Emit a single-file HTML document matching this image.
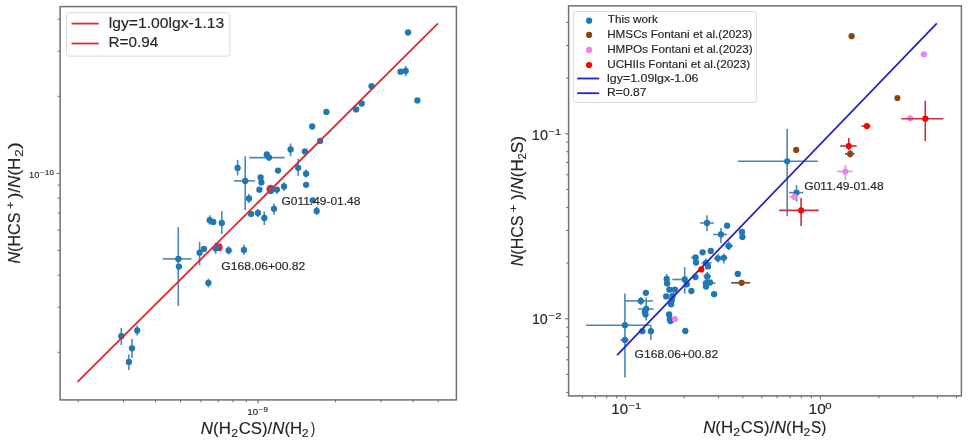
<!DOCTYPE html>
<html><head><meta charset="utf-8"><style>
html,body{margin:0;padding:0;background:#fff;}
body{width:969px;height:445px;overflow:hidden;}
svg{display:block;filter:blur(0.4px);}
text{font-family:"Liberation Sans", sans-serif;fill:#262626;stroke:#262626;stroke-width:0.15px;}
</style></head><body>
<svg width="969" height="445" viewBox="0 0 969 445">
<rect width="969" height="445" fill="#fff"/>
<line x1="78.1" y1="399.9" x2="78.1" y2="402.29999999999995" stroke="#3c3c3c" stroke-width="0.8"/>
<line x1="123.5" y1="399.9" x2="123.5" y2="402.29999999999995" stroke="#3c3c3c" stroke-width="0.8"/>
<line x1="155.6" y1="399.9" x2="155.6" y2="402.29999999999995" stroke="#3c3c3c" stroke-width="0.8"/>
<line x1="180.6" y1="399.9" x2="180.6" y2="402.29999999999995" stroke="#3c3c3c" stroke-width="0.8"/>
<line x1="201.0" y1="399.9" x2="201.0" y2="402.29999999999995" stroke="#3c3c3c" stroke-width="0.8"/>
<line x1="218.2" y1="399.9" x2="218.2" y2="402.29999999999995" stroke="#3c3c3c" stroke-width="0.8"/>
<line x1="233.1" y1="399.9" x2="233.1" y2="402.29999999999995" stroke="#3c3c3c" stroke-width="0.8"/>
<line x1="246.3" y1="399.9" x2="246.3" y2="402.29999999999995" stroke="#3c3c3c" stroke-width="0.8"/>
<line x1="335.6" y1="399.9" x2="335.6" y2="402.29999999999995" stroke="#3c3c3c" stroke-width="0.8"/>
<line x1="381.0" y1="399.9" x2="381.0" y2="402.29999999999995" stroke="#3c3c3c" stroke-width="0.8"/>
<line x1="413.1" y1="399.9" x2="413.1" y2="402.29999999999995" stroke="#3c3c3c" stroke-width="0.8"/>
<line x1="438.1" y1="399.9" x2="438.1" y2="402.29999999999995" stroke="#3c3c3c" stroke-width="0.8"/>
<line x1="258.1" y1="399.9" x2="258.1" y2="403.4" stroke="#3c3c3c" stroke-width="0.8"/>
<line x1="57.7" y1="352.3" x2="60.1" y2="352.3" stroke="#3c3c3c" stroke-width="0.8"/>
<line x1="57.7" y1="307.3" x2="60.1" y2="307.3" stroke="#3c3c3c" stroke-width="0.8"/>
<line x1="57.7" y1="275.3" x2="60.1" y2="275.3" stroke="#3c3c3c" stroke-width="0.8"/>
<line x1="57.7" y1="250.5" x2="60.1" y2="250.5" stroke="#3c3c3c" stroke-width="0.8"/>
<line x1="57.7" y1="230.2" x2="60.1" y2="230.2" stroke="#3c3c3c" stroke-width="0.8"/>
<line x1="57.7" y1="213.1" x2="60.1" y2="213.1" stroke="#3c3c3c" stroke-width="0.8"/>
<line x1="57.7" y1="198.2" x2="60.1" y2="198.2" stroke="#3c3c3c" stroke-width="0.8"/>
<line x1="57.7" y1="185.1" x2="60.1" y2="185.1" stroke="#3c3c3c" stroke-width="0.8"/>
<line x1="57.7" y1="96.3" x2="60.1" y2="96.3" stroke="#3c3c3c" stroke-width="0.8"/>
<line x1="57.7" y1="51.3" x2="60.1" y2="51.3" stroke="#3c3c3c" stroke-width="0.8"/>
<line x1="57.7" y1="19.3" x2="60.1" y2="19.3" stroke="#3c3c3c" stroke-width="0.8"/>
<line x1="56.6" y1="173.4" x2="60.1" y2="173.4" stroke="#3c3c3c" stroke-width="0.8"/>
<line x1="405.7" y1="65.9" x2="405.7" y2="76.2" stroke="#4a88b8" stroke-width="1.6"/>
<line x1="290.6" y1="143.5" x2="290.6" y2="156.2" stroke="#4a88b8" stroke-width="1.6"/>
<line x1="249.3" y1="157.6" x2="284.7" y2="157.6" stroke="#4a88b8" stroke-width="1.6"/>
<line x1="269.0" y1="153.5" x2="269.0" y2="161.0" stroke="#4a88b8" stroke-width="1.6"/>
<line x1="298.2" y1="158.8" x2="298.2" y2="175.8" stroke="#4a88b8" stroke-width="1.6"/>
<line x1="306.1" y1="169.6" x2="306.1" y2="177.6" stroke="#4a88b8" stroke-width="1.6"/>
<line x1="284.0" y1="182.2" x2="284.0" y2="190.9" stroke="#4a88b8" stroke-width="1.6"/>
<line x1="249.0" y1="194.0" x2="249.0" y2="203.0" stroke="#4a88b8" stroke-width="1.6"/>
<line x1="237.6" y1="159.8" x2="237.6" y2="175.5" stroke="#4a88b8" stroke-width="1.6"/>
<line x1="234.0" y1="180.9" x2="255.1" y2="180.9" stroke="#4a88b8" stroke-width="1.6"/>
<line x1="245.2" y1="156.3" x2="245.2" y2="210.1" stroke="#4a88b8" stroke-width="1.6"/>
<line x1="257.9" y1="209.0" x2="257.9" y2="217.0" stroke="#4a88b8" stroke-width="1.6"/>
<line x1="264.3" y1="211.5" x2="264.3" y2="225.0" stroke="#4a88b8" stroke-width="1.6"/>
<line x1="274.0" y1="203.4" x2="274.0" y2="214.7" stroke="#4a88b8" stroke-width="1.6"/>
<line x1="316.7" y1="206.6" x2="316.7" y2="215.1" stroke="#4a88b8" stroke-width="1.6"/>
<line x1="209.7" y1="215.3" x2="209.7" y2="224.7" stroke="#4a88b8" stroke-width="1.6"/>
<line x1="221.8" y1="211.2" x2="221.8" y2="234.1" stroke="#4a88b8" stroke-width="1.6"/>
<line x1="199.6" y1="241.8" x2="199.6" y2="265.3" stroke="#4a88b8" stroke-width="1.6"/>
<line x1="228.6" y1="246.2" x2="228.6" y2="254.3" stroke="#4a88b8" stroke-width="1.6"/>
<line x1="243.9" y1="244.8" x2="243.9" y2="254.7" stroke="#4a88b8" stroke-width="1.6"/>
<line x1="208.4" y1="278.6" x2="208.4" y2="287.5" stroke="#4a88b8" stroke-width="1.6"/>
<line x1="162.7" y1="258.9" x2="191.4" y2="258.9" stroke="#4a88b8" stroke-width="1.6"/>
<line x1="178.3" y1="227.1" x2="178.3" y2="306.0" stroke="#4a88b8" stroke-width="1.6"/>
<line x1="121.3" y1="328.0" x2="121.3" y2="345.0" stroke="#4a88b8" stroke-width="1.6"/>
<line x1="137.2" y1="325.4" x2="137.2" y2="335.5" stroke="#4a88b8" stroke-width="1.6"/>
<line x1="132.0" y1="339.0" x2="132.0" y2="357.8" stroke="#4a88b8" stroke-width="1.6"/>
<line x1="128.9" y1="354.4" x2="128.9" y2="370.0" stroke="#4a88b8" stroke-width="1.6"/>
<line x1="276.9" y1="186.9" x2="276.9" y2="194.0" stroke="#4a88b8" stroke-width="1.6"/>
<line x1="215.6" y1="242.6" x2="215.6" y2="253.9" stroke="#4a88b8" stroke-width="1.6"/>
<circle cx="270.6" cy="188.9" r="4.2" fill="#e8242a"/>
<circle cx="218.8" cy="247.2" r="3.9" fill="#e8242a"/>
<circle cx="408.1" cy="32.5" r="3.15" fill="#1f77b4"/>
<circle cx="400.5" cy="71.7" r="3.15" fill="#1f77b4"/>
<circle cx="405.7" cy="71.0" r="3.15" fill="#1f77b4"/>
<circle cx="417.4" cy="100.4" r="3.15" fill="#1f77b4"/>
<circle cx="371.5" cy="86.2" r="3.15" fill="#1f77b4"/>
<circle cx="361.7" cy="103.5" r="3.15" fill="#1f77b4"/>
<circle cx="356.1" cy="109.4" r="3.15" fill="#1f77b4"/>
<circle cx="326.4" cy="111.9" r="3.15" fill="#1f77b4"/>
<circle cx="312.2" cy="126.5" r="3.15" fill="#1f77b4"/>
<circle cx="320.1" cy="140.9" r="3.15" fill="#1f77b4"/>
<circle cx="304.9" cy="151.4" r="3.15" fill="#1f77b4"/>
<circle cx="290.6" cy="149.5" r="3.15" fill="#1f77b4"/>
<circle cx="266.8" cy="154.4" r="3.15" fill="#1f77b4"/>
<circle cx="269.0" cy="157.6" r="3.15" fill="#1f77b4"/>
<circle cx="278.0" cy="170.6" r="3.15" fill="#1f77b4"/>
<circle cx="298.2" cy="167.8" r="3.15" fill="#1f77b4"/>
<circle cx="306.1" cy="173.7" r="3.15" fill="#1f77b4"/>
<circle cx="260.6" cy="177.4" r="3.15" fill="#1f77b4"/>
<circle cx="261.4" cy="182.5" r="3.15" fill="#1f77b4"/>
<circle cx="259.4" cy="189.7" r="3.15" fill="#1f77b4"/>
<circle cx="306.1" cy="184.8" r="3.15" fill="#1f77b4"/>
<circle cx="284.0" cy="186.5" r="3.15" fill="#1f77b4"/>
<circle cx="249.0" cy="198.4" r="3.15" fill="#1f77b4"/>
<circle cx="237.6" cy="167.9" r="3.15" fill="#1f77b4"/>
<circle cx="245.2" cy="180.9" r="3.15" fill="#1f77b4"/>
<circle cx="251.1" cy="213.9" r="3.15" fill="#1f77b4"/>
<circle cx="257.9" cy="213.0" r="3.15" fill="#1f77b4"/>
<circle cx="264.3" cy="218.0" r="3.15" fill="#1f77b4"/>
<circle cx="274.0" cy="208.8" r="3.15" fill="#1f77b4"/>
<circle cx="312.7" cy="200.3" r="3.15" fill="#1f77b4"/>
<circle cx="316.7" cy="211.0" r="3.15" fill="#1f77b4"/>
<circle cx="209.7" cy="220.2" r="3.15" fill="#1f77b4"/>
<circle cx="213.3" cy="222.0" r="3.15" fill="#1f77b4"/>
<circle cx="221.8" cy="222.9" r="3.15" fill="#1f77b4"/>
<circle cx="199.6" cy="252.7" r="3.15" fill="#1f77b4"/>
<circle cx="203.9" cy="248.9" r="3.15" fill="#1f77b4"/>
<circle cx="228.6" cy="250.5" r="3.15" fill="#1f77b4"/>
<circle cx="243.9" cy="249.9" r="3.15" fill="#1f77b4"/>
<circle cx="208.4" cy="283.0" r="3.15" fill="#1f77b4"/>
<circle cx="178.3" cy="258.9" r="3.15" fill="#1f77b4"/>
<circle cx="178.9" cy="266.6" r="3.15" fill="#1f77b4"/>
<circle cx="121.3" cy="336.2" r="3.15" fill="#1f77b4"/>
<circle cx="137.2" cy="330.5" r="3.15" fill="#1f77b4"/>
<circle cx="132.0" cy="348.3" r="3.15" fill="#1f77b4"/>
<circle cx="128.9" cy="361.9" r="3.15" fill="#1f77b4"/>
<circle cx="270.8" cy="191.0" r="3.15" fill="#1f77b4"/>
<circle cx="272.5" cy="189.2" r="3.15" fill="#1f77b4"/>
<circle cx="276.9" cy="189.6" r="3.15" fill="#1f77b4"/>
<circle cx="215.6" cy="248.4" r="3.15" fill="#1f77b4"/>
<circle cx="217.0" cy="247.5" r="3.15" fill="#1f77b4"/>
<line x1="77.5" y1="381.9" x2="438" y2="23.4" stroke="#dc2a2e" stroke-width="1.8"/>
<rect x="60.1" y="6.6" width="396.29999999999995" height="393.29999999999995" fill="none" stroke="#707070" stroke-width="1.5"/>
<rect x="66.5" y="12.8" width="163.5" height="43.3" rx="2.5" fill="#fff" fill-opacity="0.8" stroke="#d6d6d6" stroke-width="0.9"/>
<line x1="71.5" y1="23.6" x2="98.6" y2="23.6" stroke="#dc2a2e" stroke-width="1.8"/>
<line x1="71.5" y1="43.5" x2="98.6" y2="43.5" stroke="#dc2a2e" stroke-width="1.8"/>
<line x1="582.4" y1="395.9" x2="582.4" y2="398.29999999999995" stroke="#3c3c3c" stroke-width="0.8"/>
<line x1="595.4" y1="395.9" x2="595.4" y2="398.29999999999995" stroke="#3c3c3c" stroke-width="0.8"/>
<line x1="606.7" y1="395.9" x2="606.7" y2="398.29999999999995" stroke="#3c3c3c" stroke-width="0.8"/>
<line x1="616.7" y1="395.9" x2="616.7" y2="398.29999999999995" stroke="#3c3c3c" stroke-width="0.8"/>
<line x1="684.2" y1="395.9" x2="684.2" y2="398.29999999999995" stroke="#3c3c3c" stroke-width="0.8"/>
<line x1="718.5" y1="395.9" x2="718.5" y2="398.29999999999995" stroke="#3c3c3c" stroke-width="0.8"/>
<line x1="742.8" y1="395.9" x2="742.8" y2="398.29999999999995" stroke="#3c3c3c" stroke-width="0.8"/>
<line x1="761.7" y1="395.9" x2="761.7" y2="398.29999999999995" stroke="#3c3c3c" stroke-width="0.8"/>
<line x1="777.1" y1="395.9" x2="777.1" y2="398.29999999999995" stroke="#3c3c3c" stroke-width="0.8"/>
<line x1="790.1" y1="395.9" x2="790.1" y2="398.29999999999995" stroke="#3c3c3c" stroke-width="0.8"/>
<line x1="801.4" y1="395.9" x2="801.4" y2="398.29999999999995" stroke="#3c3c3c" stroke-width="0.8"/>
<line x1="811.4" y1="395.9" x2="811.4" y2="398.29999999999995" stroke="#3c3c3c" stroke-width="0.8"/>
<line x1="878.9" y1="395.9" x2="878.9" y2="398.29999999999995" stroke="#3c3c3c" stroke-width="0.8"/>
<line x1="913.2" y1="395.9" x2="913.2" y2="398.29999999999995" stroke="#3c3c3c" stroke-width="0.8"/>
<line x1="937.5" y1="395.9" x2="937.5" y2="398.29999999999995" stroke="#3c3c3c" stroke-width="0.8"/>
<line x1="956.4" y1="395.9" x2="956.4" y2="398.29999999999995" stroke="#3c3c3c" stroke-width="0.8"/>
<line x1="625.6" y1="395.9" x2="625.6" y2="399.4" stroke="#3c3c3c" stroke-width="0.8"/>
<line x1="820.3" y1="395.9" x2="820.3" y2="399.4" stroke="#3c3c3c" stroke-width="0.8"/>
<line x1="566.2" y1="392.4" x2="568.6" y2="392.4" stroke="#3c3c3c" stroke-width="0.8"/>
<line x1="566.2" y1="374.4" x2="568.6" y2="374.4" stroke="#3c3c3c" stroke-width="0.8"/>
<line x1="566.2" y1="359.8" x2="568.6" y2="359.8" stroke="#3c3c3c" stroke-width="0.8"/>
<line x1="566.2" y1="347.4" x2="568.6" y2="347.4" stroke="#3c3c3c" stroke-width="0.8"/>
<line x1="566.2" y1="336.7" x2="568.6" y2="336.7" stroke="#3c3c3c" stroke-width="0.8"/>
<line x1="566.2" y1="327.2" x2="568.6" y2="327.2" stroke="#3c3c3c" stroke-width="0.8"/>
<line x1="566.2" y1="263.1" x2="568.6" y2="263.1" stroke="#3c3c3c" stroke-width="0.8"/>
<line x1="566.2" y1="230.5" x2="568.6" y2="230.5" stroke="#3c3c3c" stroke-width="0.8"/>
<line x1="566.2" y1="207.4" x2="568.6" y2="207.4" stroke="#3c3c3c" stroke-width="0.8"/>
<line x1="566.2" y1="189.4" x2="568.6" y2="189.4" stroke="#3c3c3c" stroke-width="0.8"/>
<line x1="566.2" y1="174.8" x2="568.6" y2="174.8" stroke="#3c3c3c" stroke-width="0.8"/>
<line x1="566.2" y1="162.4" x2="568.6" y2="162.4" stroke="#3c3c3c" stroke-width="0.8"/>
<line x1="566.2" y1="151.7" x2="568.6" y2="151.7" stroke="#3c3c3c" stroke-width="0.8"/>
<line x1="566.2" y1="142.2" x2="568.6" y2="142.2" stroke="#3c3c3c" stroke-width="0.8"/>
<line x1="566.2" y1="78.1" x2="568.6" y2="78.1" stroke="#3c3c3c" stroke-width="0.8"/>
<line x1="566.2" y1="45.5" x2="568.6" y2="45.5" stroke="#3c3c3c" stroke-width="0.8"/>
<line x1="566.2" y1="22.4" x2="568.6" y2="22.4" stroke="#3c3c3c" stroke-width="0.8"/>
<line x1="565.1" y1="133.8" x2="568.6" y2="133.8" stroke="#3c3c3c" stroke-width="0.8"/>
<line x1="565.1" y1="318.8" x2="568.6" y2="318.8" stroke="#3c3c3c" stroke-width="0.8"/>
<line x1="737.8" y1="161.3" x2="817.9" y2="161.3" stroke="#4a88b8" stroke-width="1.6"/>
<line x1="787.2" y1="129.0" x2="787.2" y2="216.3" stroke="#4a88b8" stroke-width="1.6"/>
<line x1="789.0" y1="192.6" x2="803.2" y2="192.6" stroke="#4a88b8" stroke-width="1.6"/>
<line x1="796.5" y1="185.1" x2="796.5" y2="201.6" stroke="#4a88b8" stroke-width="1.6"/>
<line x1="700.1" y1="223.0" x2="713.8" y2="223.0" stroke="#4a88b8" stroke-width="1.6"/>
<line x1="707.0" y1="215.3" x2="707.0" y2="230.9" stroke="#4a88b8" stroke-width="1.6"/>
<line x1="713.3" y1="234.5" x2="727.1" y2="234.5" stroke="#4a88b8" stroke-width="1.6"/>
<line x1="721.0" y1="227.9" x2="721.0" y2="243.1" stroke="#4a88b8" stroke-width="1.6"/>
<line x1="725.0" y1="246.0" x2="733.0" y2="246.0" stroke="#4a88b8" stroke-width="1.6"/>
<line x1="728.7" y1="241.3" x2="728.7" y2="250.3" stroke="#4a88b8" stroke-width="1.6"/>
<line x1="714.0" y1="258.3" x2="722.0" y2="258.3" stroke="#4a88b8" stroke-width="1.6"/>
<line x1="717.9" y1="254.0" x2="717.9" y2="262.5" stroke="#4a88b8" stroke-width="1.6"/>
<line x1="720.0" y1="257.8" x2="727.3" y2="257.8" stroke="#4a88b8" stroke-width="1.6"/>
<line x1="723.8" y1="253.6" x2="723.8" y2="263.6" stroke="#4a88b8" stroke-width="1.6"/>
<line x1="691.2" y1="257.5" x2="699.0" y2="257.5" stroke="#4a88b8" stroke-width="1.6"/>
<line x1="701.5" y1="262.9" x2="711.5" y2="262.9" stroke="#4a88b8" stroke-width="1.6"/>
<line x1="706.0" y1="258.5" x2="706.0" y2="269.0" stroke="#4a88b8" stroke-width="1.6"/>
<line x1="703.5" y1="276.4" x2="711.0" y2="276.4" stroke="#4a88b8" stroke-width="1.6"/>
<line x1="707.2" y1="272.0" x2="707.2" y2="281.0" stroke="#4a88b8" stroke-width="1.6"/>
<line x1="672.3" y1="279.5" x2="687.0" y2="279.5" stroke="#4a88b8" stroke-width="1.6"/>
<line x1="684.7" y1="267.2" x2="684.7" y2="293.7" stroke="#4a88b8" stroke-width="1.6"/>
<line x1="702.6" y1="283.1" x2="715.4" y2="283.1" stroke="#4a88b8" stroke-width="1.6"/>
<line x1="706.0" y1="279.0" x2="706.0" y2="288.5" stroke="#4a88b8" stroke-width="1.6"/>
<line x1="666.7" y1="274.0" x2="666.7" y2="281.0" stroke="#4a88b8" stroke-width="1.6"/>
<line x1="624.9" y1="300.9" x2="652.9" y2="300.9" stroke="#4a88b8" stroke-width="1.6"/>
<line x1="640.8" y1="297.0" x2="640.8" y2="305.0" stroke="#4a88b8" stroke-width="1.6"/>
<line x1="638.1" y1="309.0" x2="653.6" y2="309.0" stroke="#4a88b8" stroke-width="1.6"/>
<line x1="646.2" y1="297.5" x2="646.2" y2="320.4" stroke="#4a88b8" stroke-width="1.6"/>
<line x1="650.9" y1="325.2" x2="650.9" y2="340.0" stroke="#4a88b8" stroke-width="1.6"/>
<line x1="586.1" y1="325.2" x2="650.6" y2="325.2" stroke="#4a88b8" stroke-width="1.6"/>
<line x1="624.9" y1="293.5" x2="624.9" y2="377.6" stroke="#4a88b8" stroke-width="1.6"/>
<line x1="620.2" y1="339.9" x2="628.6" y2="339.9" stroke="#4a88b8" stroke-width="1.6"/>
<circle cx="787.2" cy="161.3" r="3.15" fill="#1f77b4"/>
<circle cx="796.5" cy="192.6" r="3.15" fill="#1f77b4"/>
<circle cx="707.0" cy="223.0" r="3.15" fill="#1f77b4"/>
<circle cx="727.1" cy="225.7" r="3.15" fill="#1f77b4"/>
<circle cx="721.0" cy="234.5" r="3.15" fill="#1f77b4"/>
<circle cx="742.0" cy="232.0" r="3.15" fill="#1f77b4"/>
<circle cx="742.4" cy="236.9" r="3.15" fill="#1f77b4"/>
<circle cx="728.7" cy="246.0" r="3.15" fill="#1f77b4"/>
<circle cx="702.6" cy="252.3" r="3.15" fill="#1f77b4"/>
<circle cx="710.8" cy="250.9" r="3.15" fill="#1f77b4"/>
<circle cx="717.9" cy="258.3" r="3.15" fill="#1f77b4"/>
<circle cx="723.8" cy="257.8" r="3.15" fill="#1f77b4"/>
<circle cx="695.5" cy="257.5" r="3.15" fill="#1f77b4"/>
<circle cx="696.0" cy="262.5" r="3.15" fill="#1f77b4"/>
<circle cx="706.0" cy="262.9" r="3.15" fill="#1f77b4"/>
<circle cx="708.0" cy="266.4" r="3.15" fill="#1f77b4"/>
<circle cx="707.2" cy="276.4" r="3.15" fill="#1f77b4"/>
<circle cx="695.5" cy="277.1" r="3.15" fill="#1f77b4"/>
<circle cx="737.8" cy="273.9" r="3.15" fill="#1f77b4"/>
<circle cx="684.7" cy="279.5" r="3.15" fill="#1f77b4"/>
<circle cx="686.9" cy="284.3" r="3.15" fill="#1f77b4"/>
<circle cx="706.0" cy="283.1" r="3.15" fill="#1f77b4"/>
<circle cx="710.0" cy="282.5" r="3.15" fill="#1f77b4"/>
<circle cx="706.0" cy="286.5" r="3.15" fill="#1f77b4"/>
<circle cx="691.4" cy="291.0" r="3.15" fill="#1f77b4"/>
<circle cx="714.1" cy="294.2" r="3.15" fill="#1f77b4"/>
<circle cx="666.7" cy="278.9" r="3.15" fill="#1f77b4"/>
<circle cx="667.1" cy="283.4" r="3.15" fill="#1f77b4"/>
<circle cx="669.4" cy="289.7" r="3.15" fill="#1f77b4"/>
<circle cx="674.8" cy="289.7" r="3.15" fill="#1f77b4"/>
<circle cx="666.2" cy="296.4" r="3.15" fill="#1f77b4"/>
<circle cx="672.5" cy="296.0" r="3.15" fill="#1f77b4"/>
<circle cx="671.8" cy="300.2" r="3.15" fill="#1f77b4"/>
<circle cx="671.1" cy="304.3" r="3.15" fill="#1f77b4"/>
<circle cx="669.1" cy="314.4" r="3.15" fill="#1f77b4"/>
<circle cx="669.8" cy="319.1" r="3.15" fill="#1f77b4"/>
<circle cx="670.4" cy="321.1" r="3.15" fill="#1f77b4"/>
<circle cx="685.3" cy="331.0" r="3.15" fill="#1f77b4"/>
<circle cx="645.9" cy="292.8" r="3.15" fill="#1f77b4"/>
<circle cx="640.8" cy="300.9" r="3.15" fill="#1f77b4"/>
<circle cx="646.2" cy="309.0" r="3.15" fill="#1f77b4"/>
<circle cx="644.8" cy="311.7" r="3.15" fill="#1f77b4"/>
<circle cx="645.5" cy="314.4" r="3.15" fill="#1f77b4"/>
<circle cx="642.4" cy="331.2" r="3.15" fill="#1f77b4"/>
<circle cx="650.9" cy="331.2" r="3.15" fill="#1f77b4"/>
<circle cx="624.9" cy="325.2" r="3.15" fill="#1f77b4"/>
<circle cx="624.9" cy="339.9" r="3.15" fill="#1f77b4"/>
<line x1="617.1" y1="355.1" x2="936.8" y2="23.3" stroke="#2424c4" stroke-width="1.8"/>
<circle cx="851.6" cy="36.2" r="3.1" fill="#8b4513"/>
<circle cx="897.4" cy="98.0" r="3.1" fill="#8b4513"/>
<circle cx="796.2" cy="149.9" r="3.1" fill="#8b4513"/>
<line x1="845.1" y1="153.9" x2="854.6" y2="153.9" stroke="#7a4420" stroke-width="1.6"/>
<line x1="850.1" y1="150.3" x2="850.1" y2="157.6" stroke="#7a4420" stroke-width="1.6"/>
<circle cx="850.1" cy="153.9" r="3.1" fill="#8b4513"/>
<line x1="731.2" y1="282.8" x2="750.1" y2="282.8" stroke="#7a4420" stroke-width="1.6"/>
<circle cx="741.6" cy="282.8" r="3.1" fill="#8b4513"/>
<circle cx="923.8" cy="54.3" r="3.1" fill="#ee82ee"/>
<circle cx="910.2" cy="118.3" r="3.1" fill="#ee82ee"/>
<line x1="837.3" y1="171.5" x2="852.6" y2="171.5" stroke="#e890e0" stroke-width="1.6"/>
<line x1="845.3" y1="165.2" x2="845.3" y2="180.0" stroke="#e890e0" stroke-width="1.6"/>
<circle cx="845.3" cy="171.5" r="3.1" fill="#ee82ee"/>
<line x1="789.4" y1="196.9" x2="798.0" y2="196.9" stroke="#e890e0" stroke-width="1.6"/>
<circle cx="794.6" cy="196.9" r="3.1" fill="#ee82ee"/>
<circle cx="674.9" cy="319.1" r="3.1" fill="#ee82ee"/>
<line x1="901.2" y1="118.7" x2="943.3" y2="118.7" stroke="#c8303c" stroke-width="1.6"/>
<line x1="925.3" y1="100.7" x2="925.3" y2="141.1" stroke="#c8303c" stroke-width="1.6"/>
<circle cx="925.3" cy="118.7" r="3.1" fill="#f00"/>
<line x1="861.5" y1="126.1" x2="870.6" y2="126.1" stroke="#c8303c" stroke-width="1.6"/>
<circle cx="866.9" cy="126.1" r="3.1" fill="#f00"/>
<line x1="840.2" y1="146.0" x2="856.7" y2="146.0" stroke="#c8303c" stroke-width="1.6"/>
<line x1="848.8" y1="138.0" x2="848.8" y2="150.0" stroke="#c8303c" stroke-width="1.6"/>
<circle cx="848.8" cy="146.0" r="3.1" fill="#f00"/>
<line x1="779.2" y1="210.4" x2="818.8" y2="210.4" stroke="#c8303c" stroke-width="1.6"/>
<line x1="801.1" y1="198.0" x2="801.1" y2="226.0" stroke="#c8303c" stroke-width="1.6"/>
<circle cx="801.1" cy="210.4" r="3.1" fill="#f00"/>
<circle cx="701.3" cy="269.4" r="3.1" fill="#f00"/>
<rect x="568.6" y="5.9" width="392.79999999999995" height="390.0" fill="none" stroke="#707070" stroke-width="1.5"/>
<rect x="573.4" y="11.5" width="183.0" height="91.0" rx="2.5" fill="#fff" fill-opacity="0.8" stroke="#d6d6d6" stroke-width="0.9"/>
<circle cx="589.1" cy="20.7" r="3.1" fill="#1f77b4"/>
<circle cx="589.1" cy="34.9" r="3.1" fill="#8b4513"/>
<circle cx="589.1" cy="49.9" r="3.1" fill="#ee82ee"/>
<circle cx="589.1" cy="65.0" r="3.1" fill="#f00"/>
<line x1="577.2" y1="78.5" x2="599.2" y2="78.5" stroke="#2424c4" stroke-width="1.8"/>
<line x1="577.2" y1="93.2" x2="599.2" y2="93.2" stroke="#2424c4" stroke-width="1.8"/>
<text x="108.81" y="28.4" font-size="14.4" textLength="115.52" lengthAdjust="spacingAndGlyphs">lgy=1.00lgx-1.13</text>
<text x="108.57" y="47.4" font-size="14.4" textLength="49.76" lengthAdjust="spacingAndGlyphs">R=0.94</text>
<text x="607.72" y="22.9" font-size="10.4" textLength="50.15" lengthAdjust="spacingAndGlyphs">This work</text>
<text x="607.16" y="37.5" font-size="10.4" textLength="144.96" lengthAdjust="spacingAndGlyphs">HMSCs Fontani et al.(2023)</text>
<text x="607.16" y="52.7" font-size="10.4" textLength="145.45" lengthAdjust="spacingAndGlyphs">HMPOs Fontani et al.(2023)</text>
<text x="607.15" y="67.9" font-size="10.4" textLength="143.08" lengthAdjust="spacingAndGlyphs">UCHIIs Fontani et al.(2023)</text>
<text x="607.10" y="81.8" font-size="10.4" textLength="91.35" lengthAdjust="spacingAndGlyphs">lgy=1.09lgx-1.06</text>
<text x="607.13" y="96.3" font-size="10.4" textLength="39.41" lengthAdjust="spacingAndGlyphs">R=0.87</text>
<text x="281.45" y="204.8" font-size="10.8" textLength="78.99" lengthAdjust="spacingAndGlyphs">G011.49-01.48</text>
<text x="221.34" y="269.8" font-size="10.8" textLength="84.02" lengthAdjust="spacingAndGlyphs">G168.06+00.82</text>
<text x="804.34" y="189.8" font-size="10.8" textLength="79.30" lengthAdjust="spacingAndGlyphs">G011.49-01.48</text>
<text x="634.64" y="358.3" font-size="10.8" textLength="83.52" lengthAdjust="spacingAndGlyphs">G168.06+00.82</text>
<text x="247.28" y="415.0" font-size="9.0" textLength="10.91" lengthAdjust="spacingAndGlyphs">10</text>
<text x="258.89" y="411.9" font-size="6.4" textLength="9.08" lengthAdjust="spacingAndGlyphs">−9</text>
<text x="29.13" y="177.5" font-size="9.0" textLength="10.24" lengthAdjust="spacingAndGlyphs">10</text>
<text x="40.49" y="174.7" font-size="6.4" textLength="13.32" lengthAdjust="spacingAndGlyphs">−10</text>
<text x="611.34" y="414.0" font-size="14.2" textLength="16.72" lengthAdjust="spacingAndGlyphs">10</text>
<text x="628.43" y="408.8" font-size="9.8" textLength="12.75" lengthAdjust="spacingAndGlyphs">−1</text>
<text x="808.61" y="414.0" font-size="14.2" textLength="17.17" lengthAdjust="spacingAndGlyphs">10</text>
<text x="825.22" y="408.8" font-size="9.8" textLength="6.30" lengthAdjust="spacingAndGlyphs">0</text>
<text x="531.88" y="139.7" font-size="14.2" textLength="16.17" lengthAdjust="spacingAndGlyphs">10</text>
<text x="548.64" y="134.9" font-size="9.8" textLength="12.53" lengthAdjust="spacingAndGlyphs">−1</text>
<text x="531.90" y="323.8" font-size="14.2" textLength="15.84" lengthAdjust="spacingAndGlyphs">10</text>
<text x="548.62" y="318.8" font-size="9.8" textLength="12.86" lengthAdjust="spacingAndGlyphs">−2</text>
<text x="200.87" y="433.5" font-size="16.0" textLength="29.96" lengthAdjust="spacingAndGlyphs"><tspan font-style="italic">N</tspan>(H</text>
<text x="231.17" y="436.6" font-size="11.5" textLength="6.83" lengthAdjust="spacingAndGlyphs">2</text>
<text x="238.71" y="433.5" font-size="16.0" textLength="63.41" lengthAdjust="spacingAndGlyphs">CS)/<tspan font-style="italic">N</tspan>(H</text>
<text x="301.87" y="436.6" font-size="11.5" textLength="6.83" lengthAdjust="spacingAndGlyphs">2</text>
<text x="310.91" y="433.5" font-size="16.0" textLength="4.13" lengthAdjust="spacingAndGlyphs">)</text>
<text x="703.17" y="433.2" font-size="16.0" textLength="29.96" lengthAdjust="spacingAndGlyphs"><tspan font-style="italic">N</tspan>(H</text>
<text x="733.17" y="436.0" font-size="11.5" textLength="6.83" lengthAdjust="spacingAndGlyphs">2</text>
<text x="740.72" y="433.2" font-size="16.0" textLength="63.00" lengthAdjust="spacingAndGlyphs">CS)/<tspan font-style="italic">N</tspan>(H</text>
<text x="803.58" y="436.0" font-size="11.5" textLength="6.71" lengthAdjust="spacingAndGlyphs">2</text>
<text x="811.08" y="433.2" font-size="16.0" textLength="15.27" lengthAdjust="spacingAndGlyphs">S)</text>
<g transform="translate(19.6,263) rotate(-90)"><text x="-0.50" y="0" font-size="16.0" textLength="50.98" lengthAdjust="spacingAndGlyphs"><tspan font-style="italic">N</tspan>(HCS</text></g>
<g transform="translate(19.6,263) rotate(-90)"><text x="53.94" y="-6.0" font-size="11.5" textLength="7.48" lengthAdjust="spacingAndGlyphs">+</text></g>
<g transform="translate(19.6,263) rotate(-90)"><text x="64.63" y="0" font-size="16.0" textLength="40.78" lengthAdjust="spacingAndGlyphs">)/<tspan font-style="italic">N</tspan>(H</text></g>
<g transform="translate(19.6,263) rotate(-90)"><text x="106.22" y="3.1" font-size="11.5" textLength="7.44" lengthAdjust="spacingAndGlyphs">2</text></g>
<g transform="translate(19.6,263) rotate(-90)"><text x="113.86" y="0" font-size="16.0" textLength="7.19" lengthAdjust="spacingAndGlyphs">)</text></g>
<g transform="translate(522.5,265.7) rotate(-90)"><text x="-0.50" y="0" font-size="16.0" textLength="50.67" lengthAdjust="spacingAndGlyphs"><tspan font-style="italic">N</tspan>(HCS</text></g>
<g transform="translate(522.5,265.7) rotate(-90)"><text x="53.10" y="-6.0" font-size="11.5" textLength="8.06" lengthAdjust="spacingAndGlyphs">+</text></g>
<g transform="translate(522.5,265.7) rotate(-90)"><text x="65.83" y="0" font-size="16.0" textLength="40.58" lengthAdjust="spacingAndGlyphs">)/<tspan font-style="italic">N</tspan>(H</text></g>
<g transform="translate(522.5,265.7) rotate(-90)"><text x="106.31" y="3.1" font-size="11.5" textLength="6.22" lengthAdjust="spacingAndGlyphs">2</text></g>
<g transform="translate(522.5,265.7) rotate(-90)"><text x="112.39" y="0" font-size="16.0" textLength="17.29" lengthAdjust="spacingAndGlyphs">S)</text></g>
</svg>
</body></html>
